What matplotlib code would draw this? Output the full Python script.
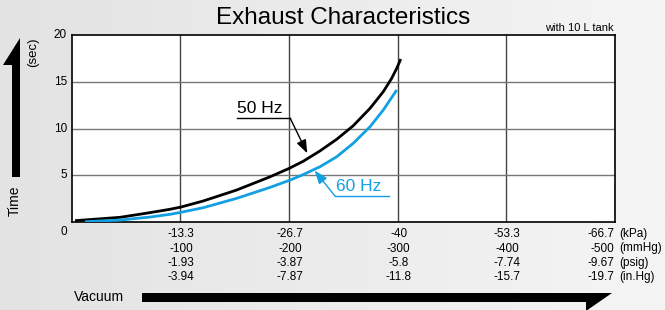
import numpy as np
import matplotlib

matplotlib.use("Agg")
import matplotlib.pyplot as plt
from matplotlib.patches import Polygon

plt.rcParams["font.family"] = ["Liberation Sans", "DejaVu Sans"]

# exhaust time (sec) vs vacuum (kPa, plotted as positive magnitude)
kpa_50 = [0.37, 5.9, 9.58, 12.04, 13.39, 16.13, 20.23, 24.32, 26.69, 28.41,
          30.46, 32.52, 34.55, 36.61, 38.24, 39.27, 39.89, 40.38]
sec_50 = [0.14, 0.5, 1.0, 1.36, 1.6, 2.25, 3.42, 4.83, 5.74, 6.5,
          7.6, 8.85, 10.3, 12.16, 13.94, 15.37, 16.44, 17.43]
kpa_60 = [1.6, 5.9, 9.58, 12.04, 13.39, 16.13, 20.23, 24.32, 26.69, 28.22,
          30.46, 32.52, 34.55, 36.61, 38.24, 39.89]
sec_60 = [0.03, 0.21, 0.53, 0.82, 1.04, 1.53, 2.53, 3.7, 4.45, 5.0,
          5.91, 6.98, 8.42, 10.19, 11.98, 14.12]

tick_pos = [13.3, 26.7, 40.0, 53.3, 66.7]
kpa_lbl = ["-13.3", "-26.7", "-40", "-53.3", "-66.7"]
mmhg_lbl = ["-100", "-200", "-300", "-400", "-500"]
psig_lbl = ["-1.93", "-3.87", "-5.8", "-7.74", "-9.67"]
inhg_lbl = ["-3.94", "-7.87", "-11.8", "-15.7", "-19.7"]
units = ["(kPa)", "(mmHg)", "(psig)", "(in.Hg)"]
y_ticks = [5, 10, 15, 20]

BLUE = "#12a0e2"
W, H = 665, 310

fig = plt.figure(figsize=(W / 100, H / 100), dpi=100)

# background gradient + pixel-coordinate overlay
bg = fig.add_axes([0, 0, 1, 1])
grad = np.linspace(0, 1, 256)[None, :]
bg.imshow(grad, extent=(0, W, H, 0), aspect="auto",
          cmap=matplotlib.colors.LinearSegmentedColormap.from_list("g", ["#e3e3e3", "#f5f5f5"]))
bg.set_xlim(0, W)
bg.set_ylim(H, 0)
bg.axis("off")

ax = fig.add_axes([72 / W, 1 - 222 / H, 543 / W, 187 / H])
ax.set_facecolor("white")
ax.set_xlim(0, 66.7)
ax.set_ylim(0, 20)
for x in tick_pos[:-1]:
    ax.axvline(x, color="#444444", lw=1.0, zorder=1)
for y in y_ticks[:-1]:
    ax.axhline(y, color="#777777", lw=1.0, zorder=1)
for s in ax.spines.values():
    s.set_color("black")
    s.set_linewidth(1.2)
ax.set_xticks([])
ax.set_yticks([])

ax.plot(kpa_50, sec_50, color="black", lw=2.0, solid_capstyle="butt", zorder=3)
ax.plot(kpa_60, sec_60, color=BLUE, lw=2.0, solid_capstyle="butt", zorder=3)

# callouts
ax.text(20.3, 11.3, "50 Hz", fontsize=12.5, ha="left", va="bottom")
ax.plot([20.3, 26.8], [11.1, 11.1], color="black", lw=1.0)
ax.annotate("", xy=(28.9, 7.35), xytext=(26.8, 11.1),
            arrowprops=dict(arrowstyle="-|>,head_length=0.8,head_width=0.3",
                            color="black", lw=1.0, shrinkA=0, shrinkB=0))
ax.text(32.4, 2.95, "60 Hz", fontsize=12.5, ha="left", va="bottom", color=BLUE)
ax.plot([32.3, 38.9], [2.78, 2.78], color=BLUE, lw=1.0)
ax.annotate("", xy=(29.8, 5.5), xytext=(32.3, 2.78),
            arrowprops=dict(arrowstyle="-|>,head_length=0.8,head_width=0.3",
                            color=BLUE, lw=1.0, shrinkA=0, shrinkB=0))

# tick labels
rows = [kpa_lbl, mmhg_lbl, psig_lbl, inhg_lbl]
row_y = [234, 248.5, 263, 277]
for r, (labels, py) in enumerate(zip(rows, row_y)):
    for i, (x, lbl) in enumerate(zip(tick_pos, labels)):
        px = 72 + x / 66.7 * 543
        if i == len(tick_pos) - 1:
            bg.text(614, py, lbl, fontsize=8.5, ha="right", va="center")
        else:
            bg.text(px + 1, py, lbl, fontsize=8.5, ha="center", va="center")
    bg.text(619, py, units[r], fontsize=8.5, ha="left", va="center")

for y in y_ticks:
    bg.text(67, 222 - y * 9.35, str(y), fontsize=8.5, ha="right", va="center")
bg.text(67, 232, "0", fontsize=8.5, ha="right", va="center")

# titles
bg.text(343, 18, "Exhaust Characteristics", fontsize=17.5, ha="center", va="center")
bg.text(614, 28, "with 10 L tank", fontsize=8, ha="right", va="center")

# axis names and big arrows
bg.text(33, 52, "(sec)", fontsize=9.5, rotation=90, ha="center", va="center")
bg.text(15, 201, "Time", fontsize=10, rotation=90, ha="center", va="center")
bg.text(74, 297, "Vacuum", fontsize=10, ha="left", va="center")
bg.add_patch(Polygon([(20, 38), (3, 65), (12, 65), (12, 177), (20, 177)],
                     closed=True, color="black", lw=0))
bg.add_patch(Polygon([(142, 293), (612, 293), (586, 311), (586, 302), (142, 302)],
                     closed=True, color="black", lw=0))

fig.savefig("out.png", dpi=100)
